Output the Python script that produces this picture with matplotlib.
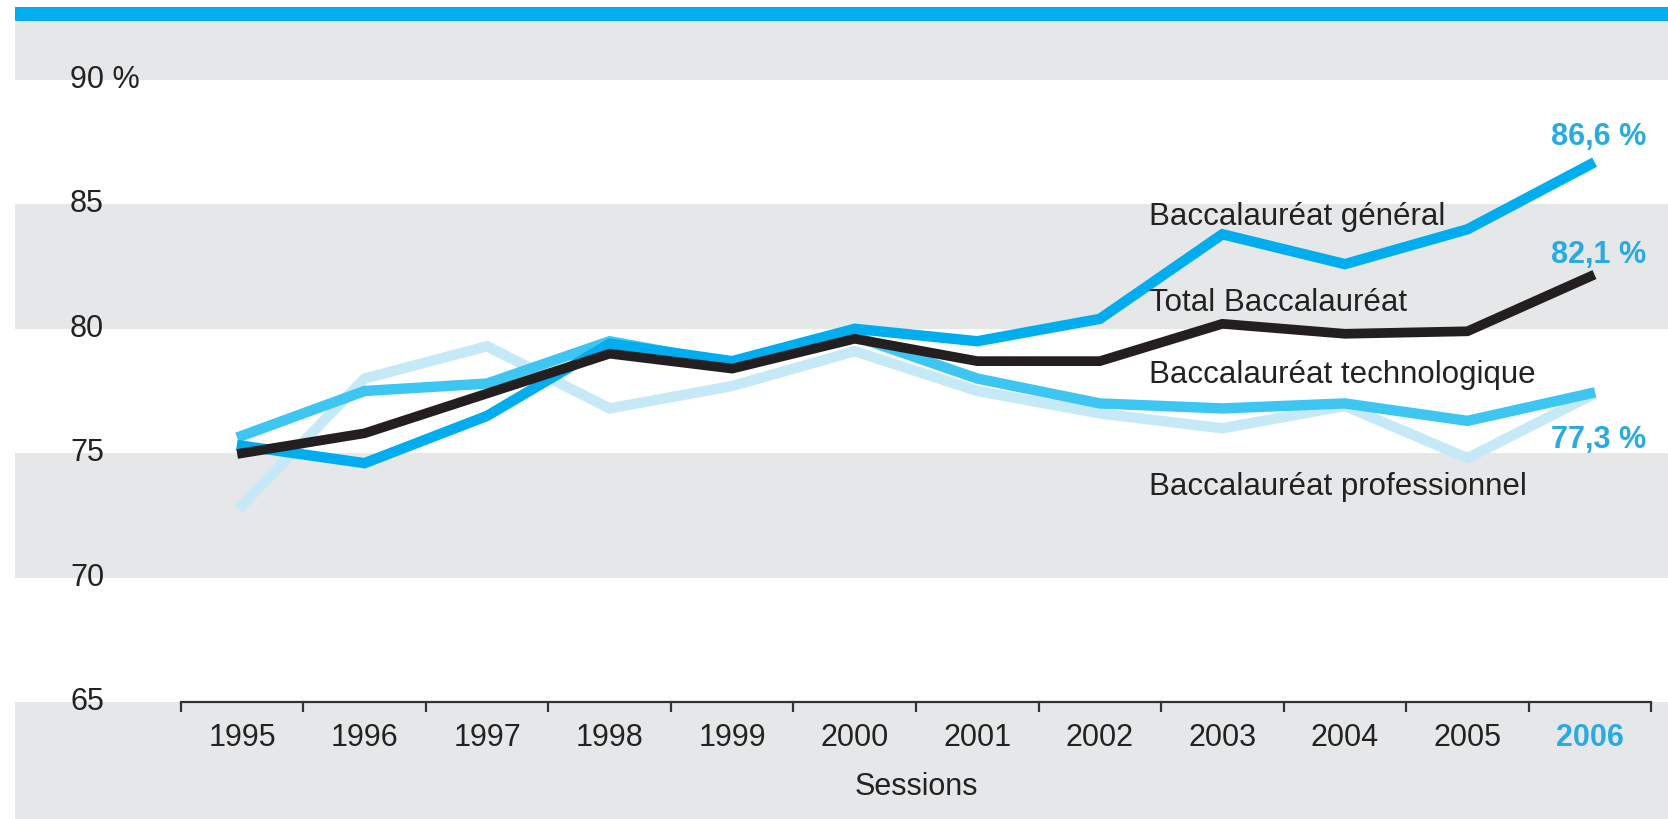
import matplotlib
matplotlib.use("Agg")
import matplotlib.pyplot as plt
from matplotlib.patches import Rectangle
from matplotlib.transforms import blended_transform_factory

plt.rcParams['font.family'] = ['Liberation Sans', 'DejaVu Sans']

years = [1995, 1996, 1997, 1998, 1999, 2000, 2001, 2002, 2003, 2004, 2005, 2006]
general = [75.3, 74.6, 76.5, 79.4, 78.7, 80.0, 79.5, 80.4, 83.8, 82.6, 84.0, 86.6]
total = [75.0, 75.8, 77.4, 79.0, 78.4, 79.6, 78.7, 78.7, 80.2, 79.8, 79.9, 82.1]
techno = [75.7, 77.5, 77.8, 79.5, 78.6, 79.7, 78.0, 77.0, 76.8, 77.0, 76.3, 77.4]
pro = [72.9, 78.0, 79.3, 76.8, 77.7, 79.1, 77.5, 76.6, 76.0, 76.9, 74.8, 77.3]
y_ticks = [65, 70, 75, 80, 85, 90]
y_labels = ['65', '70', '75', '80', '85', '90 %']

BLUE = '#00AEEF'
TECH = '#3CC6F1'
PRO = '#C6E9F8'
BLACK = '#231F20'
LABEL_BLUE = '#29ABE2'
GRAY = '#E6E7E8'
TXT = '#222222'

fig = plt.figure(figsize=(16.68, 8.19), dpi=100)
ax = fig.add_axes([180.7 / 1668, (819 - 702) / 819, 1470.6 / 1668, 622 / 819])
ax.set_xlim(1994.5, 2006.5)
ax.set_ylim(65, 90)
ax.patch.set_alpha(0)

# grey bands spanning the whole panel width
tr = blended_transform_factory(fig.transFigure, ax.transData)
for lo, hi in [(90, 92.33), (80, 85), (70, 75), (60.3, 65)]:
    ax.add_patch(Rectangle((15 / 1668, lo), 1 - 15 / 1668, hi - lo, transform=tr,
                           facecolor=GRAY, edgecolor='none', clip_on=False, zorder=0))

# blue top bar
fig.patches.append(Rectangle((15 / 1668, (819 - 21) / 819), 1 - 15 / 1668, 14 / 819,
                             transform=fig.transFigure, facecolor=BLUE, edgecolor='none'))

ax.plot(years, pro, color=PRO, lw=7.5, zorder=2, solid_joinstyle='miter')
ax.plot(years, techno, color=TECH, lw=7.5, zorder=3, solid_joinstyle='miter')
ax.plot(years, general, color=BLUE, lw=7.5, zorder=4, solid_joinstyle='miter')
ax.plot(years, total, color=BLACK, lw=7, zorder=5, solid_joinstyle='miter')

for s in ['top', 'left', 'right']:
    ax.spines[s].set_visible(False)
ax.spines['bottom'].set_color('#333333')
ax.spines['bottom'].set_linewidth(1.6)
ax.set_yticks([])

edges = [y - 0.5 for y in years] + [years[-1] + 0.5]
ax.set_xticks(edges)
ax.set_xticklabels([])
ax.tick_params(axis='x', which='major', direction='out', length=7, width=1.6, color='#333333')
ax.set_xticks(years, minor=True)
ax.set_xticklabels([str(y) for y in years], minor=True)
ax.tick_params(axis='x', which='minor', length=0, pad=15, labelsize=22, labelcolor=TXT)
ax.get_xticklabels(minor=True)[-1].set_color(LABEL_BLUE)
ax.get_xticklabels(minor=True)[-1].set_fontweight('bold')

ytr = blended_transform_factory(fig.transFigure, ax.transData)
for v, lab in zip(y_ticks, y_labels):
    ax.text(70 / 1668, v, lab, transform=ytr, ha='left', va='center', fontsize=22,
            color=TXT, clip_on=False)

ax.text(2000.5, 61.6, 'Sessions', ha='center', va='center', fontsize=22, color=TXT,
        clip_on=False)

ax.text(2002.4, 84.5, 'Baccalauréat général', fontsize=22.5, va='center', color=TXT, zorder=6)
ax.text(2002.4, 81.05, 'Total Baccalauréat', fontsize=22.5, va='center', color=TXT, zorder=6)
ax.text(2002.4, 78.15, 'Baccalauréat technologique', fontsize=22.5, va='center', color=TXT, zorder=6)
ax.text(2002.4, 73.65, 'Baccalauréat professionnel', fontsize=22.5, va='center', color=TXT, zorder=6)

ax.text(2006.46, 87.7, '86,6 %', ha='right', va='center', fontsize=22, fontweight='bold',
        color=LABEL_BLUE, clip_on=False)
ax.text(2006.46, 82.97, '82,1 %', ha='right', va='center', fontsize=22, fontweight='bold',
        color=LABEL_BLUE, clip_on=False)
ax.text(2006.46, 75.53, '77,3 %', ha='right', va='center', fontsize=22, fontweight='bold',
        color=LABEL_BLUE, clip_on=False)

fig.savefig('out.png', dpi=100)
